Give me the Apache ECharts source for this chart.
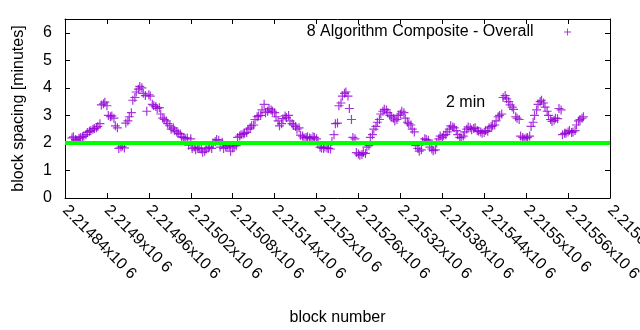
<!DOCTYPE html>
<html>
<head>
<meta charset="utf-8">
<script src="https://cdn.jsdelivr.net/npm/echarts@6/dist/echarts.min.js"></script>
<style>html,body{margin:0;padding:0;background:#fff;}#c{width:640px;height:330px;}</style>
</head>
<body>
<div id="c"></div>
<script>
// Block numbers (x) and block spacing in minutes (y)
var blocks = [
2214850,2214855,2214860,2214865,2214870,2214875,2214880,2214885,2214890,2214895,
2214900,2214905,2214910,2214915,2214920,2214925,2214930,2214935,2214940,2214945,
2214950,2214955,2214960,2214965,2214970,2214975,2214980,2214985,2214990,2214995,
2215000,2215005,2215010,2215015,2215020,2215025,2215030,2215035,2215040,2215045,
2215050,2215055,2215060,2215065,2215070,2215075,2215080,2215085,2215090,2215095,
2215100,2215105,2215110,2215115,2215120,2215125,2215130,2215135,2215140,2215145,
2215150,2215155,2215160,2215165,2215170,2215175,2215180,2215185,2215190,2215195,
2215200,2215205,2215210,2215215,2215220,2215225,2215230,2215235,2215240,2215245,
2215250,2215255,2215260,2215265,2215270,2215275,2215280,2215285,2215290,2215295,
2215300,2215305,2215310,2215315,2215320,2215325,2215330,2215335,2215340,2215345,
2215350,2215355,2215360,2215365,2215370,2215375,2215380,2215385,2215390,2215395,
2215400,2215405,2215410,2215415,2215420,2215425,2215430,2215435,2215440,2215445,
2215450,2215455,2215460,2215465,2215470,2215475,2215480,2215485,2215490,2215495,
2215500,2215505,2215510,2215515,2215520,2215525,2215530,2215535,2215540,2215545,
2215550,2215555,2215560,2215565,2215570,2215575,2215580
];
var spacing = [
2.18,2.12,2.16,2.22,2.30,2.42,2.50,2.55,2.70,3.42,
3.35,2.95,2.90,2.55,1.85,1.82,2.80,3.10,3.65,3.95,
4.00,3.72,3.75,3.40,3.32,3.28,2.90,2.80,2.62,2.55,
2.40,2.32,2.20,2.18,2.15,1.85,1.80,1.78,1.70,1.82,
1.80,2.05,2.10,2.02,1.85,1.88,1.82,1.90,2.25,2.32,
2.38,2.55,2.65,2.95,3.00,3.40,3.15,3.20,3.10,2.80,
2.70,2.98,3.00,2.70,2.60,2.55,2.25,2.20,2.18,2.22,
2.15,1.85,1.80,1.82,1.78,2.30,2.72,3.45,3.80,3.70,
2.85,2.15,1.60,1.58,1.62,1.90,2.30,2.60,2.85,3.15,
3.20,3.00,2.90,2.85,3.05,3.10,2.75,2.65,2.40,1.80,
1.75,2.15,2.10,1.78,1.75,2.15,2.20,2.30,2.50,2.58,
2.45,2.20,2.25,2.50,2.55,2.52,2.45,2.40,2.38,2.42,
2.60,2.65,2.95,3.05,3.72,3.50,3.30,2.95,2.85,2.20,
2.18,2.25,2.75,3.20,3.50,3.45,3.15,2.85,2.82,2.88,
3.20,2.35,2.40,2.38,2.45,2.80,2.90
];
// Intermediate blocks
var blocks2 = [
2214852,2214857,2214862,2214867,2214872,2214877,2214882,2214887,2214892,2214897,
2214902,2214907,2214912,2214917,2214922,2214927,2214932,2214937,2214942,2214947,
2214952,2214957,2214962,2214967,2214972,2214977,2214982,2214987,2214992,2214997,
2215002,2215007,2215012,2215017,2215022,2215027,2215032,2215037,2215042,2215047,
2215052,2215057,2215062,2215067,2215072,2215077,2215082,2215087,2215092,2215097,
2215102,2215107,2215112,2215117,2215122,2215127,2215132,2215137,2215142,2215147,
2215152,2215157,2215162,2215167,2215172,2215177,2215182,2215187,2215192,2215197,
2215202,2215207,2215212,2215217,2215222,2215227,2215232,2215237,2215242,2215247,
2215252,2215257,2215262,2215267,2215272,2215277,2215282,2215287,2215292,2215297,
2215302,2215307,2215312,2215317,2215322,2215327,2215332,2215337,2215342,2215347,
2215352,2215357,2215362,2215367,2215372,2215377,2215382,2215387,2215392,2215397,
2215402,2215407,2215412,2215417,2215422,2215427,2215432,2215437,2215442,2215447,
2215452,2215457,2215462,2215467,2215472,2215477,2215482,2215487,2215492,2215497,
2215502,2215507,2215512,2215517,2215522,2215527,2215532,2215537,2215542,2215547,
2215552,2215557,2215562,2215567,2215572,2215577,2215582
];
var spacing2 = [
2.22,2.10,2.20,2.25,2.38,2.45,2.52,2.60,3.38,3.48,
3.00,2.98,2.62,1.80,1.88,2.72,2.95,3.55,3.85,4.05,
3.80,3.15,3.70,3.35,3.25,3.05,2.85,2.70,2.50,2.45,
2.35,2.22,2.15,1.92,1.80,1.75,1.82,1.66,1.78,1.85,
2.00,2.12,1.85,1.80,1.90,1.70,1.88,2.20,2.30,2.35,
2.50,2.62,2.85,2.98,3.20,3.10,3.25,3.15,2.95,2.62,
2.88,2.92,2.80,2.65,2.50,2.28,2.18,2.22,2.15,2.20,
2.00,1.82,1.85,1.80,2.05,2.70,3.35,3.70,3.85,3.25,
2.20,1.65,1.55,1.65,1.85,2.20,2.50,2.75,3.05,3.22,
3.10,2.95,2.80,3.00,3.15,2.90,2.70,2.50,1.90,1.70,
2.05,2.12,1.85,1.72,2.00,2.25,2.28,2.40,2.62,2.55,
2.30,2.18,2.40,2.58,2.48,2.55,2.42,2.35,2.45,2.55,
2.62,2.80,3.00,3.65,3.60,3.38,3.22,2.90,2.25,2.15,
2.20,2.60,3.00,3.40,3.55,3.30,3.00,2.78,2.90,3.25,
2.30,2.35,2.45,2.40,2.65,2.85,2.95
];
var seriesName = '8 Algorithm Composite - Overall';
var targetSpacing = 2;
var targetLabel = '2 min';
var xTickLabels = ['2.21484x10 6','2.2149x10 6','2.21496x10 6','2.21502x10 6','2.21508x10 6','2.21514x10 6','2.2152x10 6','2.21526x10 6','2.21532x10 6','2.21538x10 6','2.21544x10 6','2.2155x10 6','2.21556x10 6','2.21562x10 6'];
var yTickLabels = ['0','1','2','3','4','5','6'];
var xMin = 2214840, xMax = 2215620, xStep = 60;

var pts = blocks.map(function(b, i){ return [b, spacing[i]]; })
  .concat(blocks2.map(function(b, i){ return [b, spacing2[i]]; }));
var plus = 'path://M3.9,0h1.2v3.9h3.9v1.2h-3.9v3.9h-1.2v-3.9h-3.9v-1.2h3.9z';
var font = 'Liberation Sans, Arial, sans-serif';
var fs = 16;
var axisLine = {show: true, onZero: false, lineStyle: {color: '#000', width: 1}};
var tick = {show: true, inside: true, length: 5, lineStyle: {color: '#000'}};

var chart = echarts.init(document.getElementById('c'), null, {renderer: 'canvas'});
chart.setOption({
  animation: false,
  backgroundColor: '#fff',
  grid: {left: 65, right: 30, top: 19, bottom: 132, containLabel: false, outerBoundsMode: 'none'},
  legend: {
    data: [seriesName], right: 64, top: 19, align: 'right',
    itemWidth: 58, itemHeight: 7,
    textStyle: {fontSize: fs, color: '#000', fontFamily: font}
  },
  xAxis: [{
    type: 'value', min: xMin, max: xMax, interval: xStep, position: 'bottom',
    name: 'block number', nameLocation: 'middle', nameGap: 112,
    nameTextStyle: {fontSize: fs, color: '#000', fontFamily: font},
    axisLine: axisLine, axisTick: tick, splitLine: {show: false},
    axisLabel: {
      rotate: -45, margin: 10, fontSize: fs, color: '#000', fontFamily: font,
      formatter: function(v){ var i = Math.round((v - xMin) / xStep); return xTickLabels[i] || ''; }
    }
  }, {
    type: 'value', min: xMin, max: xMax, interval: xStep, position: 'top',
    axisLine: axisLine, axisTick: tick, splitLine: {show: false}, axisLabel: {show: false}
  }],
  yAxis: [{
    type: 'value', min: 0, max: 6.5, interval: 1, position: 'left',
    name: 'block spacing [minutes]', nameLocation: 'middle', nameGap: 38, nameRotate: 90,
    nameTextStyle: {fontSize: fs, color: '#000', fontFamily: font},
    axisLine: axisLine, axisTick: tick, splitLine: {show: false},
    axisLabel: {
      margin: 13, fontSize: fs, color: '#000', fontFamily: font,
      formatter: function(v){ return (Math.abs(v - Math.round(v)) < 1e-9) ? (yTickLabels[Math.round(v)] || '') : ''; }
    }
  }, {
    type: 'value', min: 0, max: 6.5, interval: 1, position: 'right',
    axisLine: axisLine, axisTick: tick, splitLine: {show: false}, axisLabel: {show: false}
  }],
  graphic: [{
    type: 'text', left: 446, top: 95,
    style: {text: targetLabel, fill: '#000', font: fs + 'px Liberation Sans, Arial, sans-serif'}
  }],
  series: [{
    name: seriesName, type: 'scatter', data: pts,
    symbol: plus, symbolSize: 9, symbolKeepAspect: true,
    itemStyle: {color: '#9400d3'},
    markLine: {
      silent: true, symbol: ['none', 'none'], label: {show: false},
      lineStyle: {color: '#00ff00', width: 4, type: 'solid'},
      data: [{yAxis: targetSpacing}]
    }
  }]
});
</script>
</body>
</html>
